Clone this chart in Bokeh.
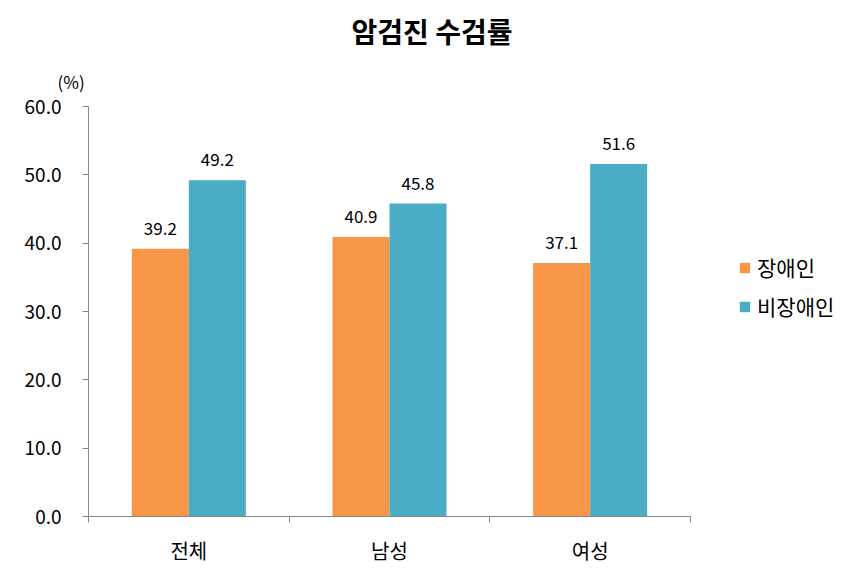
from bokeh.plotting import figure
from bokeh.models import (ColumnDataSource, FixedTicker, NumeralTickFormatter, Title,
                          Legend, LegendItem, Range1d)
from bokeh.embed import file_html
from bokeh.resources import INLINE
from bokeh.core.properties import value

title = "암검진 수검률"
categories = ["전체", "남성", "여성"]
series_names = ["장애인", "비장애인"]
disabled = [39.2, 40.9, 37.1]
non_disabled = [49.2, 45.8, 51.6]
y_ticks = [0, 10, 20, 30, 40, 50, 60]
unit_label = "(%)"

colors = ["#F79646", "#4BACC6"]
FONT = "Noto Sans CJK KR"

W, H = 856, 584
L, T, B = 88, 106, 68
AXIS_RIGHT = 690  # pixel where the category axis ends
n = len(categories)
# frame spans to right edge of canvas; axis itself is bounded to the categories
x_end = n * (W - L) / (AXIS_RIGHT - L)

p = figure(width=W, height=H, output_backend="svg", toolbar_location=None,
           x_range=Range1d(0, x_end), y_range=Range1d(0, 60),
           min_border_left=L, min_border_right=0, min_border_top=T, min_border_bottom=B)
p.outline_line_color = None
p.xgrid.visible = False
p.ygrid.visible = False
p.background_fill_color = "white"
p.border_fill_color = "white"

centers = [i + 0.5 for i in range(n)]
bw = 0.284
off = 0.142

src1 = ColumnDataSource(dict(x=[c - off for c in centers], top=disabled,
                             lab=[f"{v:.1f}" for v in disabled]))
src2 = ColumnDataSource(dict(x=[c + off for c in centers], top=non_disabled,
                             lab=[f"{v:.1f}" for v in non_disabled]))

r1 = p.vbar(x="x", top="top", width=bw, bottom=0, source=src1, fill_color=colors[0], line_color=None)
r2 = p.vbar(x="x", top="top", width=bw, bottom=0, source=src2, fill_color=colors[1], line_color=None)

for src in (src1, src2):
    p.text(x="x", y="top", text="lab", source=src, text_align="center", text_baseline="bottom",
           y_offset=-14, text_font=value(FONT), text_font_size="17px", text_color="#000000")

# x axis
xa = p.xaxis[0]
xa.bounds = (0, n)
xa.ticker = FixedTicker(ticks=centers, minor_ticks=list(range(n + 1)))
xa.major_label_overrides = {c: cat for c, cat in zip(centers, categories)}
xa.major_tick_out = 0
xa.major_tick_in = 0
xa.minor_tick_out = 6
xa.minor_tick_in = 0
xa.minor_tick_line_color = "#868686"
xa.axis_line_color = "#868686"
xa.major_label_text_font = FONT
xa.major_label_text_font_size = "20px"
xa.major_label_text_color = "#000000"
xa.major_label_standoff = 13

# y axis
ya = p.yaxis[0]
ya.ticker = FixedTicker(ticks=y_ticks, minor_ticks=[])
ya.formatter = NumeralTickFormatter(format="0.0")
ya.major_tick_out = 6
ya.major_tick_in = 0
ya.major_tick_line_color = "#868686"
ya.axis_line_color = "#868686"
ya.major_label_text_font = FONT
ya.major_label_text_font_size = "19px"
ya.major_label_text_color = "#000000"
ya.major_label_standoff = 21

# main title (outer) and unit label (closest to frame)
p.title = Title(text=title, align="left", offset=263, text_font=FONT,
                text_font_size="28px", text_font_style="bold", text_color="#000000",
                standoff=8)
p.add_layout(Title(text=unit_label, align="left", offset=-31, text_font=FONT,
                   text_font_size="17px", text_font_style="normal", text_color="#000000",
                   standoff=25), "above")

legend = Legend(items=[LegendItem(label=series_names[0], renderers=[r1]),
                       LegendItem(label=series_names[1], renderers=[r2])],
                location=(738 - L, 195), orientation="vertical",
                glyph_width=13, glyph_height=13, label_height=20, label_standoff=6,
                spacing=9, padding=0, margin=0, border_line_color=None,
                background_fill_alpha=0, label_text_font=FONT,
                label_text_font_size="21px", label_text_color="#000000")
p.add_layout(legend)

open("out.html", "w").write(file_html(p, INLINE))
